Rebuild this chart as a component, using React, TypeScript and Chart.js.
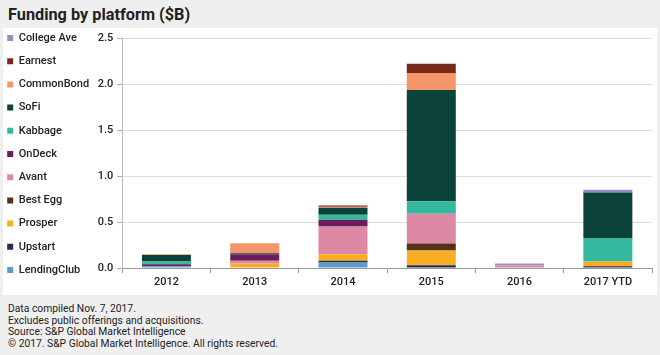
import React, { useEffect, useRef } from "react";
import { Chart, registerables } from "chart.js";

Chart.register(...registerables);

const categories = ["2012", "2013", "2014", "2015", "2016", "2017 YTD"];

const lendingClub = [0.02, 0, 0.06, 0, 0, 0];
const upstart = [0, 0, 0.02, 0.03, 0, 0.02];
const prosper = [0, 0.05, 0.07, 0.16, 0, 0.05];
const bestEgg = [0, 0, 0, 0.075, 0, 0];
const avant = [0, 0.03, 0.3, 0.325, 0.03, 0];
const onDeck = [0.02, 0.07, 0.075, 0, 0, 0];
const kabbage = [0.03, 0, 0.055, 0.135, 0, 0.25];
const sofi = [0.07, 0.01, 0.075, 1.21, 0, 0.5];
const commonBond = [0.01, 0.11, 0.01, 0.185, 0, 0];
const earnest = [0, 0, 0.015, 0.1, 0, 0];
const collegeAve = [0, 0, 0, 0, 0.02, 0.03];

const seriesNames = [
  "LendingClub",
  "Upstart",
  "Prosper",
  "Best Egg",
  "Avant",
  "OnDeck",
  "Kabbage",
  "SoFi",
  "CommonBond",
  "Earnest",
  "College Ave",
];
const seriesValues = [
  lendingClub,
  upstart,
  prosper,
  bestEgg,
  avant,
  onDeck,
  kabbage,
  sofi,
  commonBond,
  earnest,
  collegeAve,
];
const seriesColors = [
  "#5b9bc9",
  "#1f2c55",
  "#f8ad22",
  "#55301a",
  "#dd89a5",
  "#6a1d5c",
  "#33b99d",
  "#0b433b",
  "#f4956a",
  "#76291a",
  "#9191c6",
];

const yTicks = { min: 0, max: 2.5, step: 0.5 };

const FONT = "Roboto, 'Liberation Sans', Arial, sans-serif";

export default function App() {
  const canvasRef = useRef<HTMLCanvasElement | null>(null);

  useEffect(() => {
    const canvas = canvasRef.current;
    if (!canvas) return;
    const chart = new Chart(canvas, {
      type: "bar",
      data: {
        labels: categories,
        datasets: seriesNames.map((name, i) => ({
          label: name,
          data: seriesValues[i],
          backgroundColor: seriesColors[i],
          borderWidth: 0,
          categoryPercentage: 1,
          barPercentage: 0.555,
        })),
      },
      options: {
        responsive: false,
        animation: false,
        devicePixelRatio: 1,
        layout: { padding: { top: 20.3, right: 8, bottom: 7.8, left: 0 } },
        plugins: {
          tooltip: { enabled: false },
          title: { display: false },
          legend: {
            position: "left",
            align: "start",
            reverse: true,
            maxWidth: 99,
            labels: {
              boxWidth: 6,
              boxHeight: 6,
              padding: 12.2,
              color: "#222",
              font: { family: FONT, size: 11, weight: "500" },
            },
          },
        },
        scales: {
          x: {
            stacked: true,
            offset: true,
            grid: {
              display: true,
              offset: true,
              drawOnChartArea: false,
              drawTicks: true,
              tickLength: 5,
              tickColor: "#999",
            },
            border: { display: true, color: "#999", width: 1 },
            ticks: {
              padding: 3,
              color: "#222",
              font: { family: FONT, size: 11, weight: "500" },
            },
          },
          y: {
            stacked: true,
            min: yTicks.min,
            max: yTicks.max,
            afterFit: (scale: any) => {
              scale.width = 28.3;
              scale.paddingTop = 38;
            },
            grid: {
              color: (ctx: any) =>
                ctx.tick && ctx.tick.value === 0 ? "rgba(0,0,0,0)" : "#dcdcdc",
              drawTicks: true,
              tickLength: 5,
              tickColor: "#aaa",
            },
            border: { display: true, color: "#bbb", width: 1 },
            ticks: {
              stepSize: yTicks.step,
              padding: 4,
              color: "#222",
              font: { family: FONT, size: 11, weight: "500" },
              callback: (v: any) => Number(v).toFixed(1),
            },
          },
        },
      },
    });
    return () => chart.destroy();
  }, []);

  return (
    <div
      style={{
        position: "fixed",
        left: 0,
        top: 0,
        width: 660,
        height: 355,
        background: "#efefef",
        overflow: "hidden",
        fontFamily: FONT,
      }}
    >
      <div
        style={{
          position: "absolute",
          left: 8,
          top: 6,
          fontSize: 16.3,
          lineHeight: "17px",
          fontWeight: 700,
          color: "#222",
          whiteSpace: "nowrap",
        }}
      >
        Funding by platform ($B)
      </div>
      <div
        style={{
          position: "absolute",
          left: 3,
          top: 28,
          width: 654,
          height: 267,
          background: "#ffffff",
        }}
      />
      <canvas
        ref={canvasRef}
        width={665}
        height={300}
        style={{ position: "absolute", left: -5, top: 0, width: 665, height: 300 }}
      />
      <div
        style={{
          position: "absolute",
          left: 8,
          top: 303,
          fontSize: 10.3,
          lineHeight: "11.7px",
          color: "#222",
          whiteSpace: "nowrap",
        }}
      >
        <div>Data compiled Nov. 7, 2017.</div>
        <div>Excludes public offerings and acquisitions.</div>
        <div>Source: S&amp;P Global Market Intelligence</div>
        <div>© 2017. S&amp;P Global Market Intelligence. All rights reserved.</div>
      </div>
    </div>
  );
}
